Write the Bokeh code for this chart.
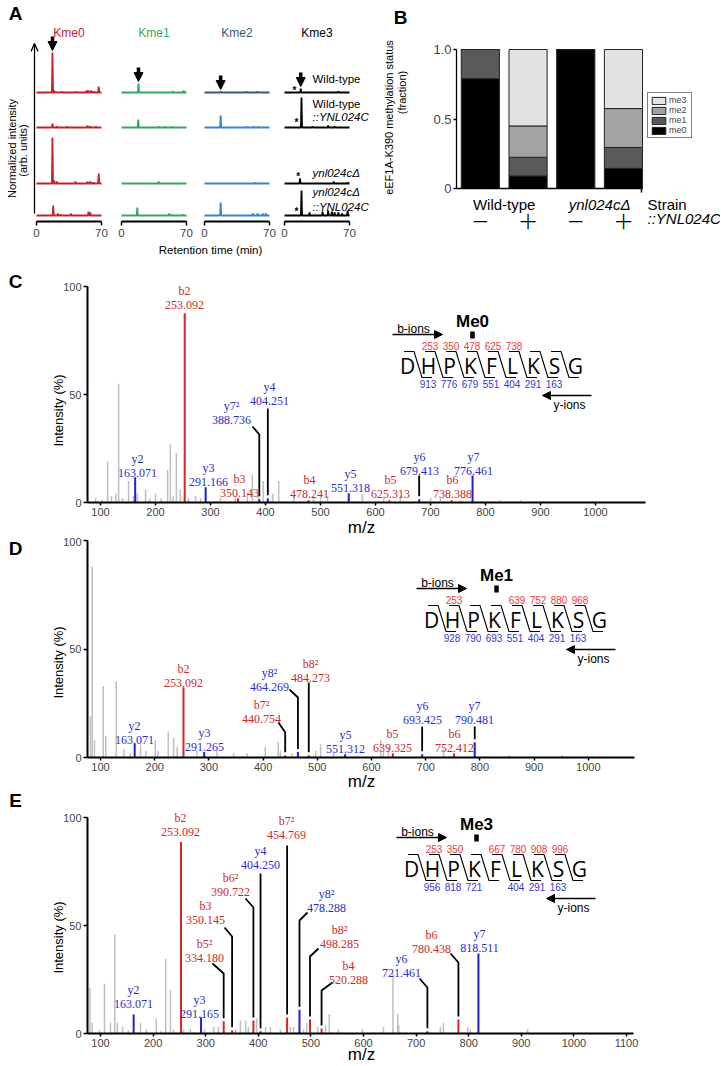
import math
from bokeh.plotting import figure
from bokeh.layouts import column, row
from bokeh.models import (Range1d, LinearAxis, FixedTicker, Arrow, NormalHead,
                          Legend, LegendItem, ColumnDataSource)
from bokeh.core.properties import value
from bokeh.embed import file_html
from bokeh.resources import INLINE

SANS = "Liberation Sans"
SERIF = "Liberation Serif"
PEPF = "Open Sans"

# ======================= DATA =======================
# ---- Panel A: extracted-ion chromatograms, peaks = (retention time [min], height [arb. units]) ----
a_headers = ["Kme0", "Kme1", "Kme2", "Kme3"]
kme0_peaks = [
    [(17.2, 40), (19, 2), (27, 1), (42, 1), (54, 2), (56, 2), (59, 2), (62, 1), (67, 6)],
    [(17.2, 4), (22, 1), (33, 1), (55, 2), (58, 1), (64, 1)],
    [(17.2, 46), (19, 3), (22, 2), (42, 2), (55, 2), (58, 2), (61, 1), (67, 10)],
    [(18, 10), (23, 2), (26, 1), (37, 2), (56, 4), (58, 3)],
]
kme1_peaks = [
    [(18.3, 9), (55, 1.5), (67, 2)],
    [(18, 8), (40, 1), (47, 1), (54, 1)],
    [(40, 2)],
    [(17, 8), (51, 2), (54, 1), (66, 1)],
]
kme2_peaks = [
    [(17.4, 1), (45, 1), (57, 1)],
    [(17.4, 12), (45, 1), (53, 1), (58, 1)],
    [(55, 1)],
    [(17.4, 13), (52, 2), (57, 2), (63, 2), (66, 2)],
]
kme3_peaks = [
    [(17.5, 4), (58, 1)],
    [(18.3, 30), (30, 1), (47, 2), (54, 1)],
    [(16.7, 5), (53, 2), (68, 1)],
    [(18.3, 25), (27, 3), (41, 4), (47, 5), (51, 4), (54, 3), (58, 3), (62, 2), (68, 5)],
]
kme3_asterisks = [(10.8, 4.7), (12.9, 7.7), (14.8, 9.7), (12.9, 6.7)]

# ---- Panel B: eEF1A-K390 methylation status (fraction) ----
b_bar_x = [1, 2, 3, 4]
b_strains = ["Wild-type", "ynl024cΔ"]
b_complement = ["−", "+", "−", "+"]
b_layers = ["me0", "me1", "me2", "me3"]
b_me0 = [0.79, 0.09, 1.00, 0.145]
b_me1 = [0.21, 0.135, 0.00, 0.15]
b_me2 = [0.00, 0.225, 0.00, 0.28]
b_me3 = [0.00, 0.55, 0.00, 0.425]

# ---- Panels C-E: MS/MS spectra ----
peptide = "DHPKFLKSG"
mod_residue = 3

c_ions = ["y2", "b2", "y3", "b3", "y7²", "y4", "b4", "y5", "b5", "y6", "b6", "y7"]
c_mz = [163.071, 253.092, 291.166, 350.143, 388.736, 404.251, 478.241, 551.318, 625.313, 679.413, 738.388, 776.461]
c_int = [11.7, 87.6, 7.1, 2.0, 1.5, 2.0, 1.0, 4.3, 1.0, 1.5, 1.0, 12.5]
c_grey = [(91, 2), (103, 1), (113, 19), (120, 3), (128, 4), (133, 55), (140, 2), (151, 10), (160, 3),
          (167, 4), (182, 6), (190, 2), (200, 4), (210, 2), (222, 15), (227, 27), (232, 3), (238, 23),
          (245, 6), (260, 2), (273, 3), (282, 2), (318, 2), (345, 3), (367, 4), (376, 13), (387, 3),
          (396, 10), (413, 4), (424, 10), (451, 3), (487, 3), (500, 2), (513, 3), (576, 4), (615, 2),
          (645, 3), (700, 2), (718, 2), (755, 1), (827, 1), (864, 1)]
c_b_frag = [None, 253, 350, 478, 625, 738, None, None]
c_y_frag = [913, 776, 679, 551, 404, 291, 163, None]

d_ions = ["y2", "b2", "y3", "b7²", "y8²", "b8²", "y5", "b5", "y6", "b6", "y7"]
d_mz = [163.071, 253.092, 291.265, 440.754, 464.269, 484.273, 551.312, 639.325, 693.425, 752.412, 790.481]
d_int = [6.4, 32.4, 2.5, 1.0, 2.5, 1.0, 1.5, 2.0, 1.5, 2.0, 7.0]
d_grey = [(81.5, 19), (84.7, 88), (88.9, 8), (105, 33), (109.8, 10), (129, 35), (143, 4), (155, 2),
          (174, 6), (184, 3), (201, 8), (206, 3), (225, 12), (235, 9), (241.5, 5), (278, 3), (315, 3),
          (345.6, 2), (370.6, 2), (404, 5), (428, 7), (432, 3), (453.6, 2), (497, 3), (506, 6), (530, 2),
          (617, 8), (622, 3), (631, 5), (733, 4), (854, 1), (952, 1)]
d_b_frag = [None, 253, None, None, 639, 752, 880, 968]
d_y_frag = [928, 790, 693, 551, 404, 291, 163, None]

e_ions = ["y2", "b2", "y3", "b5²", "b3", "b6²", "y4", "b7²", "y8²", "b8²", "b4", "y6", "b6", "y7"]
e_mz = [163.071, 253.092, 291.165, 334.180, 350.145, 390.722, 404.250, 454.769, 478.288, 498.285, 520.288, 721.461, 780.438, 818.511]
e_int = [8.8, 88.6, 7.5, 5.7, 1.5, 6.0, 1.0, 7.4, 11.0, 6.5, 2.3, 1.0, 6.5, 37.0]
e_grey = [(79.7, 21), (84, 5), (98, 1.5), (107.6, 23), (119, 5), (127, 46), (132, 5), (142, 3), (153, 1.5),
          (176, 5), (187, 2), (206, 7), (214, 1), (224, 34.5), (233, 20), (239, 2), (258, 2), (271, 2),
          (298, 2), (315, 3), (324, 3), (357, 2), (366, 6), (376, 6), (381, 3), (397, 7), (414, 3),
          (423, 3), (442, 2), (461, 3), (467, 3), (486, 2), (492, 5), (513, 3), (528, 4), (535, 9),
          (552, 2), (598, 2), (638, 3), (656, 28), (665, 9), (667, 4), (746, 3), (752, 5), (798, 3),
          (803, 2), (912, 2)]
e_b_frag = [None, 253, 350, None, 667, 780, 908, 996]
e_y_frag = [956, 818, 721, None, 404, 291, 163, None]

# ======================= STYLE / LAYOUT =======================
RED_LINE, RED_TEXT = "#dc2323", "#cc2a2a"
BLUE_LINE, BLUE_TEXT = "#1f1fd8", "#2b2bcc"
GREY = "#bfbfbf"
PEP_RED, PEP_BLUE = "#ee3b3b", "#3535d6"
A_HEAD_COLORS = ["#c4222a", "#34a85c", "#3a5783", "black"]
A_ROW_COLORS = [["#c4222a"] * 4, ["#34a85c"] * 4,
                ["#3a5783", "#2f86d6", "#2f86d6", "#2f86d6"], ["black"] * 4]
B_COLORS = ["#000000", "#595959", "#a3a3a3", "#e2e2e2"]


def lin(ref_px, ref_val, ppu):
    return lambda px: ref_val + (px - ref_px) / ppu


def lin_y(ref_py, ref_val, ppu):
    return lambda py: ref_val + (ref_py - py) / ppu


def base_fig(w, h, xr, yr):
    p = figure(width=w, height=h, x_range=Range1d(*xr), y_range=Range1d(*yr),
               x_axis_type=None, y_axis_type=None, output_backend="svg",
               toolbar_location=None, min_border=0, outline_line_color=None)
    p.min_border_left = p.min_border_right = p.min_border_top = p.min_border_bottom = 0
    p.background_fill_color = "white"
    p.border_fill_color = "white"
    return p


def txt(p, x, y, s, size, color="black", font=SANS, align="center", baseline="middle",
        style="normal", angle=0.0, xr=None, yr=None, y_offset=0):
    if not isinstance(x, list):
        x, y, s = [x], [y], [s]
    kw = {}
    if xr:
        kw["x_range_name"] = xr
    if yr:
        kw["y_range_name"] = yr
    p.text(x=x, y=y, text=s, text_font=value(font), text_font_size=size, text_color=color,
           text_align=align, text_baseline=baseline, text_font_style=style, angle=angle,
           y_offset=y_offset, **kw)


def style_axis(ax, tick_out, size, standoff, lw=2.0):
    ax.axis_line_width = lw
    ax.axis_line_color = "black"
    ax.major_tick_line_width = 1.5
    ax.major_tick_line_color = "black"
    ax.major_tick_in = 0
    ax.major_tick_out = tick_out
    ax.minor_tick_line_color = None
    ax.major_label_text_font = SANS
    ax.major_label_text_font_size = size
    ax.major_label_standoff = standoff


def trace_xy(peaks, base):
    xs, ys = [0.0], [base]
    for t, h in sorted(peaks):
        xs += [t - 0.6, t, t + 0.6]
        ys += [base, base + h, base]
    xs.append(70.0)
    ys.append(base)
    return xs, ys


# ======================= PANEL A =======================
fxS = lin(0, 0, 1)
fyS = lin_y(0, 0, 1)
pAS = base_fig(30, 242, (fxS(0), fxS(30)), (fyS(242), fyS(0)))
txt(pAS, fxS(15), fyS(13), "A", "19px", style="bold")
txt(pAS, fxS(11), fyS(148), "Normalized intensity", "11px", angle=math.pi / 2)
txt(pAS, fxS(22), fyS(150), "(arb. units)", "11px", angle=math.pi / 2)

A_FIG_X = [(30, 112), (112, 195), (195, 277), (277, 370)]
A_TOP, A_BOT = 0, 242
A_T0_PX = [36, 121, 204, 284]
A_KX = 65 / 70
A_AXIS_PY = 221
A_ROW_PY = [92, 127, 183, 215]
fyA = lin_y(A_AXIS_PY, 0, 1)
row_base = [fyA(py) for py in A_ROW_PY]
cols_peaks = [kme0_peaks, kme1_peaks, kme2_peaks, kme3_peaks]

a_figs = [pAS]
for c, peaks in enumerate(cols_peaks):
    l, r = A_FIG_X[c]
    fx = lin(A_T0_PX[c], 0, A_KX)
    p = base_fig(r - l, A_BOT - A_TOP, (fx(l), fx(r)), (fyA(A_BOT), fyA(A_TOP)))
    xs, ys = [], []
    for ri, pk in enumerate(peaks):
        x, y = trace_xy(pk, row_base[ri])
        xs.append(x)
        ys.append(y)
    p.multi_line(xs, ys, line_color=A_ROW_COLORS[c], line_width=1.8)
    txt(p, 35, fyA(32), a_headers[c], "12px", color=A_HEAD_COLORS[c])
    t0, h0 = peaks[0][0]
    tip = row_base[0] + h0 + 2
    p.add_layout(Arrow(x_start=t0, y_start=tip + 14, x_end=t0, y_end=tip,
                       line_width=3.5, line_color="black",
                       end=NormalHead(size=9, fill_color="black", line_color="black")))
    ax = LinearAxis(fixed_location=0, bounds=(0, 70), ticker=FixedTicker(ticks=[0, 70]))
    style_axis(ax, 4, "11.5px", 3, lw=1.8)
    p.add_layout(ax, "below")
    if c == 0:
        xa_ = fx(34)
        p.segment(x0=[xa_], y0=[fyA(213)], x1=[xa_], y1=[fyA(44)], line_color="black", line_width=1.3)
        p.multi_line([[fx(30.5), xa_, fx(37.5)]], [[fyA(51), fyA(43), fyA(51)]],
                     line_color="black", line_width=1.3)
    if c == 3:
        txt(p, [a[0] for a in kme3_asterisks],
            [row_base[ri] + a[1] for ri, a in enumerate(kme3_asterisks)],
            ["*"] * 4, "10px", style="bold", y_offset=3)
        lab_x = fx(312)
        for s, py, st in [("Wild-type", 78, "normal"), ("Wild-type", 103, "normal"),
                          ("::YNL024C", 116, "italic"), ("ynl024cΔ", 172, "italic"),
                          ("ynl024cΔ", 191, "italic"), ("::YNL024C", 206, "italic")]:
            txt(p, lab_x, fyA(py), s, "11.5px", align="left", style=st)
    a_figs.append(p)

fxL = lin(0, 0, 1)
fyL = lin_y(0, 0, 1)
pAL = base_fig(370, 16, (fxL(0), fxL(370)), (fyL(258), fyL(242)))
txt(pAL, fxL(210), fyL(249), "Retention time (min)", "11.5px")

# ======================= PANEL B =======================
B_L, B_T, B_W, B_H = 370, 0, 350, 258
fxB = lin(456, 0.5, 47.7)
fyB = lin_y(188, 0, 139)
pB = base_fig(B_W, B_H, (fxB(B_L), fxB(B_L + B_W)), (fyB(B_T + B_H), fyB(B_T)))
srcB = ColumnDataSource(dict(x=b_bar_x, me0=b_me0, me1=b_me1, me2=b_me2, me3=b_me3))
rs = pB.vbar_stack(b_layers, x="x", width=0.8, source=srcB, fill_color=B_COLORS,
                   line_color="#222222", line_width=1)
legend = Legend(items=[LegendItem(label=n, renderers=[r]) for n, r in reversed(list(zip(b_layers, rs)))],
                location=(277, 120), border_line_color="black", border_line_width=1,
                background_fill_color="white", padding=2, spacing=0, margin=0,
                glyph_height=9, glyph_width=17, label_height=9, label_standoff=2,
                label_text_font=SANS, label_text_font_size="9px")
pB.add_layout(legend)

yaB = LinearAxis(fixed_location=0.5, bounds=(0, 1), ticker=FixedTicker(ticks=[0, 0.5, 1]),
                 major_label_overrides={1: "1.0"})
style_axis(yaB, 3, "13px", 2, lw=1.3)
pB.add_layout(yaB, "left")
xaB = LinearAxis(fixed_location=0, bounds=(0.5, 4.38), ticker=FixedTicker(ticks=[4.38]))
style_axis(xaB, 4, "1px", 2, lw=1.3)
xaB.major_label_text_color = None
pB.add_layout(xaB, "below")

txt(pB, fxB(400), fyB(17), "B", "19px", style="bold")
txt(pB, fxB(388), fyB(117), "eEF1A-K390 methylation status", "11px", angle=math.pi / 2)
txt(pB, fxB(401), fyB(92), "(fraction)", "11px", angle=math.pi / 2)
strain_x = [(b_bar_x[0] + b_bar_x[1]) / 2, (b_bar_x[2] + b_bar_x[3]) / 2]
txt(pB, strain_x[0], fyB(204), b_strains[0], "15px")
txt(pB, strain_x[1], fyB(204), b_strains[1], "15px", style="italic")
txt(pB, fxB(647), fyB(204), "Strain", "15px", align="left")
txt(pB, list(b_bar_x), [fyB(220)] * 4, b_complement, "32px", font="Lato Light")
txt(pB, fxB(647), fyB(218), "::YNL024C", "15px", align="left", style="italic")


# ======================= PANELS C-E =======================
def spectrum(top, height, kx, y0_py, ky, x_end, ticks, ions, mzs, ints, grey, lab, lead,
             origin, mod_label, b_frag, y_frag, letter, letter_py, ylab_py, mz_py):
    L, W = 0, 720
    fx = lin(100, 100, kx)
    fy = lin_y(y0_py, 0, ky)
    p = base_fig(W, height, (fx(L), fx(L + W)), (fy(top + height), fy(top)))
    fpx = lin(origin[0], 0, 21)
    fpy = lin_y(origin[1], 0, 1)
    p.extra_x_ranges = {"pep": Range1d(fpx(L), fpx(L + W))}
    p.extra_y_ranges = {"pep": Range1d(fpy(top + height), fpy(top))}

    gmz = [g[0] for g in grey]
    gint = [g[1] for g in grey]
    p.segment(x0=gmz, y0=[0] * len(gmz), x1=gmz, y1=gint, line_color=GREY, line_width=1.5)
    lcols = [RED_LINE if s.startswith("b") else BLUE_LINE for s in ions]
    tcols = [RED_TEXT if s.startswith("b") else BLUE_TEXT for s in ions]
    p.segment(x0=mzs, y0=[0] * len(mzs), x1=mzs, y1=ints, line_color=lcols, line_width=2)

    gap = 3 / ky
    lxs, lys = [], []
    for ion, m, v in zip(ions, mzs, ints):
        if ion in lead:
            sx, sy, by = lead[ion]
            xs, ys = [], []
            if sx is not None:
                xs.append(fx(sx))
                ys.append(fy(sy))
            xs += [m, m]
            ys += [fy(by), v + gap]
            lxs.append(xs)
            lys.append(ys)
    p.multi_line(lxs, lys, line_color="black", line_width=1.8)

    lx = [fx(lab[i][0]) for i in ions]
    ly = [fy(lab[i][1]) for i in ions]
    txt(p, lx, ly, list(ions), "12px", color=tcols, font=SERIF)
    txt(p, lx, ly, [f"{m:.3f}" for m in mzs], "12px", color=tcols, font=SERIF, y_offset=14)

    xa = LinearAxis(fixed_location=0, bounds=(fx(87), x_end), ticker=FixedTicker(ticks=ticks))
    style_axis(xa, 3, "11px", 2)
    p.add_layout(xa, "below")
    ya = LinearAxis(fixed_location=fx(87), bounds=(0, 100), ticker=FixedTicker(ticks=[0, 50, 100]))
    style_axis(ya, 4, "11px", 2)
    p.add_layout(ya, "left")

    txt(p, fx(15), fy(letter_py), letter, "19px", style="bold")
    txt(p, fx(58), fy(ylab_py), "Intensity (%)", "13px", angle=math.pi / 2)
    txt(p, fx(361), fy(mz_py), "m/z", "17px")

    n = len(peptide)
    pk = dict(xr="pep", yr="pep")
    txt(p, list(range(n)), [0] * n, list(peptide), "21px", font=PEPF, **pk)
    gaps = [i + 0.5 for i in range(n - 1)]
    p.multi_line([[g - 14 / 21, g - 4 / 21, g + 4 / 21, g + 14 / 21] for g in gaps],
                 [[14, 14, -12, -12] for _ in gaps], line_color="black", line_width=1.1,
                 x_range_name="pep", y_range_name="pep")
    bx = [g - 9 / 21 for g, b in zip(gaps, b_frag) if b is not None]
    bt = [str(b) for b in b_frag if b is not None]
    txt(p, bx, [20] * len(bx), bt, "10px", color=PEP_RED, **pk)
    yx = [g + 10 / 21 for g, y in zip(gaps, y_frag) if y is not None]
    yt = [str(y) for y in y_frag if y is not None]
    txt(p, yx, [-18] * len(yx), yt, "10px", color=PEP_BLUE, **pk)
    p.add_layout(Arrow(x_start=-15 / 21, y_start=31, x_end=35 / 21, y_end=31, x_range_name="pep",
                       y_range_name="pep", line_width=1.3, line_color="black",
                       end=NormalHead(size=8, fill_color="black", line_color="black")))
    txt(p, 6 / 21, 37, "b-ions", "12px", **pk)
    mx = mod_residue + 2 / 21
    txt(p, mx, 44, mod_label, "17px", style="bold", **pk)
    p.rect(x=[mx], y=[30.5], width=4.5 / 21, height=7, fill_color="black", line_color=None,
           x_range_name="pep", y_range_name="pep")
    p.add_layout(Arrow(x_start=184 / 21, y_start=-30, x_end=135 / 21, y_end=-30, x_range_name="pep",
                       y_range_name="pep", line_width=1.3, line_color="black",
                       end=NormalHead(size=8, fill_color="black", line_color="black")))
    txt(p, 162 / 21, -39, "y-ions", "12px", **pk)
    return p


C_LAB = {"y2": (137, 458), "b2": (184, 290), "y3": (208, 467), "b3": (239, 478), "y7²": (231, 405),
         "y4": (269, 386), "b4": (309, 479), "y5": (350, 473), "b5": (390, 479), "y6": (419, 456),
         "b6": (452, 479), "y7": (473, 456)}
C_LEAD = {"y7²": (252, 426, 434), "y4": (None, None, 408), "y6": (None, None, 475)}
D_LAB = {"y2": (134, 725), "b2": (183, 668), "y3": (204, 732), "b7²": (261, 704), "y8²": (269, 672),
         "b8²": (310, 663), "y5": (345, 734), "b5": (392, 733), "y6": (422, 705), "b6": (454, 733),
         "y7": (474, 705)}
D_LEAD = {"b7²": (278, 722, 732), "y8²": (289, 689, 697), "b8²": (None, None, 682),
          "y6": (None, None, 726), "y7": (None, None, 726)}
E_LAB = {"y2": (133, 989), "b2": (180, 817), "y3": (199, 999), "b5²": (204, 943), "b3": (205, 905),
         "b6²": (230, 877), "y4": (260, 850), "b7²": (286, 820), "y8²": (326, 893), "b8²": (339, 929),
         "b4": (348, 965), "y6": (401, 958), "b6": (431, 934), "y7": (479, 933)}
E_LEAD = {"b5²": (212, 963, 973), "b3": (224, 927, 936), "b6²": (245, 898, 907),
          "y4": (None, None, 873), "b7²": (None, None, 845), "y8²": (307, 912, 920),
          "b8²": (318, 948, 956), "b4": (332, 982, 990), "y6": (419, 978, 987), "b6": (450, 953, 962)}

pC = spectrum(258, 279, 0.55, 502, 2.16, 1090, list(range(100, 1001, 100)), c_ions, c_mz, c_int,
              c_grey, C_LAB, C_LEAD, (407, 365), "Me0", c_b_frag, c_y_frag, "C", 281, 410, 527)
pD = spectrum(537, 254, 0.542, 757, 2.17, 1085, list(range(100, 1001, 100)), d_ions, d_mz, d_int,
              d_grey, D_LAB, D_LEAD, (431, 619), "Me1", d_b_frag, d_y_frag, "D", 548, 662, 781)
pE = spectrum(791, 273, 0.526, 1033, 2.16, 1113, list(range(100, 1101, 100)), e_ions, e_mz, e_int,
              e_grey, E_LAB, E_LEAD, (411, 868), "Me3", e_b_frag, e_y_frag, "E", 800, 937, 1054)

panel_a = column(row(*a_figs), pAL)
layout = column(row(panel_a, pB), pC, pD, pE)
open("out.html", "w").write(file_html(layout, INLINE, "eEF1A K390 methylation"))
